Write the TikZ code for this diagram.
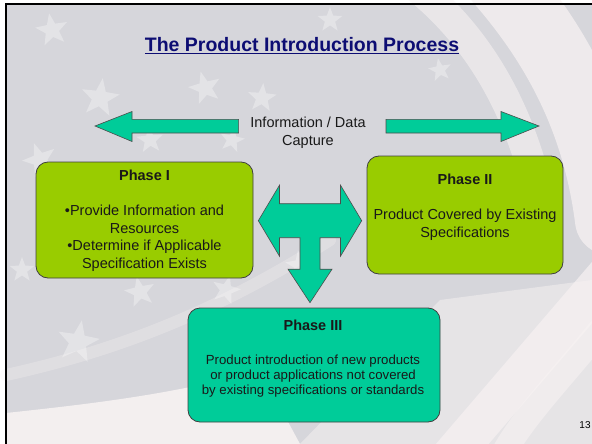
\documentclass[tikz,border=0pt]{standalone}
\usepackage{fontspec}
\setmainfont{Liberation Sans}
\usepackage{tikz}
\usetikzlibrary{shapes.geometric, calc, positioning}
\usepackage{xcolor}
\definecolor{slidegray}{rgb}{0.84, 0.84, 0.86}
\definecolor{flagwhite}{rgb}{0.97, 0.95, 0.95}
\definecolor{limegreen}{rgb}{0.6, 0.8, 0.0}
\definecolor{seagreen}{rgb}{0.0, 0.8, 0.6}
\definecolor{titlenavy}{rgb}{0.05, 0.05, 0.45}

\begin{document}
\begin{tikzpicture}[x=1pt, y=-1pt]
        \tikzstyle{phasebox}=[draw=black!75, line width=0.8pt, rounded corners=12pt, inner sep=0pt]
        \tikzstyle{blockarrow}=[draw=black!70, line width=0.6pt, fill=seagreen]
        \tikzstyle{phasetext}=[align=center, font=\fontsize{14.5}{17.5}\selectfont, text=black!90]
        \tikzstyle{flagstar}=[star, star points=5, star point ratio=2.4, fill=white, opacity=0.32, inner sep=0pt]
        \tikzstyle{flagstripe}=[draw=flagwhite, line cap=round]
        \useasboundingbox (0,0) rectangle (592,444);

        % Background of the slide
        \fill[white] (0,0) rectangle (592,444);
        \fill[slidegray] (6,4) rectangle (592,444);
        % Light stripes of the flag
        \draw[flagstripe, line width=70pt, opacity=0.75] (500,-20) .. controls (570,60) and (600,140) .. (610,220);
        \draw[flagstripe, line width=30pt, opacity=0.6] (420,-10) .. controls (480,40) and (520,110) .. (540,200);
        \draw[flagstripe, line width=40pt, opacity=0.7] (620,260) .. controls (560,330) and (500,400) .. (440,470);
        \draw[flagstripe, line width=25pt, opacity=0.6] (600,330) .. controls (560,380) and (520,420) .. (500,460);
        \fill[flagwhite, opacity=0.9] (6,413) .. controls (100,403) and (180,393) .. (260,370)
            -- (300,444) -- (6,444) -- cycle;
        \fill[flagwhite, opacity=0.5] (440,300) -- (592,280) -- (592,444) -- (300,444) -- cycle;
        \draw[flagstripe, line width=12pt, opacity=0.3] (6,375) .. controls (120,350) and (220,310) .. (330,240);

        % Stars
        \foreach \sx/\sy/\ss/\sr in {52/30/34/10, 100/98/40/-8, 205/88/34/15, 262/98/30/-5, 330/20/26/0,
                                      40/160/36/20, 150/140/28/5, 232/140/26/-12, 300/265/30/8,
                                      78/342/44/-10, 140/292/32/12, 226/290/30/-15, 22/270/26/0, 440/70/24/10} {
            \node[flagstar, minimum size=\ss pt, rotate=\sr] at (\sx,\sy) {};
        }

        % Slide border (top and left)
        \draw[black, line width=2pt] (6,444) -- (6,4) -- (592,4);

        % Title
        \node (title) at (302,46) {\fontsize{19.5}{22}\selectfont\bfseries\color{titlenavy}\underline{The Product Introduction Process}};

        % Information / Data arrows
        \node (info) at (308,133) [phasetext] {Information / Data\\Capture};
        \draw[blockarrow] (238.6,119.3) -- (132,119.3) -- (132,111.5) -- (95,126) -- (132,141.5)
            -- (132,133) -- (238.6,133) -- cycle;
        \draw[blockarrow] (386,119.3) -- (501,119.3) -- (501,111.5) -- (539,126) -- (501,141.5)
            -- (501,133) -- (386,133) -- cycle;

        % Phase boxes
        \node (phaseI) [phasebox, fill=limegreen, minimum width=217pt, minimum height=116pt] at (144.5,220) {};
        \node (phaseII) [phasebox, fill=limegreen, minimum width=196pt, minimum height=118pt] at (465,215) {};
        \node (phaseIII) [phasebox, fill=seagreen, minimum width=252pt, minimum height=114pt] at (314,365) {};

        % Phase texts
        \node (phaseItxt) [phasetext] at (144.5,220.5)
            {\textbf{Phase I}\\[17.5pt]\textbullet Provide Information and\\Resources\\\textbullet Determine if Applicable\\Specification Exists};
        \node (phaseIItxt) [phasetext] at (465,207)
            {\textbf{Phase II}\\[17.5pt]Product Covered by Existing\\Specifications};
        \node (phaseIIItxt) [phasetext, font=\fontsize{13.2}{15}\selectfont] at (313,358.5)
            {{\fontsize{14.5}{15}\selectfont\textbf{Phase III}}\\[19pt]Product introduction of new products\\or product applications not covered\\by existing specifications or standards};

        % T shaped arrow between the phases
        \begin{scope}[shift={(310,220.7)}]
            \coordinate (tcenter) at (0,0);
            \draw[blockarrow] (-51.7,0) -- (-30.5,-35.5) -- (-30.5,-17) -- (30.5,-17) -- (30.5,-35.5)
                -- (51.7,0) -- (30.5,35.5) -- (30.5,17) -- (10,17) -- (10,48.5) -- (22,48.5)
                -- (0,82) -- (-22,48.5) -- (-10,48.5) -- (-10,17) -- (-30.5,17) -- (-30.5,35.5) -- cycle;
        \end{scope}

        % Page number
        \node (pagenum) at (585,425) {\fontsize{10}{12}\selectfont 13};
\end{tikzpicture}
\end{document}
